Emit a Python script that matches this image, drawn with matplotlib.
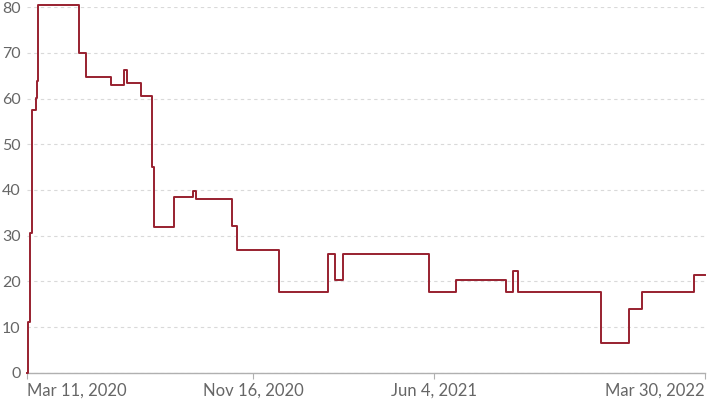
import pandas as pd
import matplotlib.pyplot as plt

# index value from each change date on (step chart)
change_dates = [
    "2020-03-11", "2020-03-12", "2020-03-14", "2020-03-17", "2020-03-21",
    "2020-03-22", "2020-03-23", "2020-05-07", "2020-05-15", "2020-06-12",
    "2020-06-26", "2020-06-29", "2020-07-15", "2020-07-27", "2020-07-29",
    "2020-08-20", "2020-09-10", "2020-09-14", "2020-10-23", "2020-10-29",
    "2020-12-14", "2021-02-07", "2021-02-14", "2021-02-23", "2021-05-29",
    "2021-06-28", "2021-08-22", "2021-08-30", "2021-09-05", "2021-12-05",
    "2022-01-05", "2022-01-20", "2022-03-18", "2022-03-30",
]
values = [
    0, 11.11, 30.56, 57.41, 60.19,
    63.89, 80.56, 69.91, 64.81, 62.96,
    66.2, 63.43, 60.65, 44.91, 31.94,
    38.43, 39.81, 37.96, 32.22, 26.85,
    17.59, 25.93, 20.37, 25.93, 17.59,
    20.37, 17.59, 22.22, 17.59, 6.48,
    13.89, 17.59, 21.3, 21.3,
]

tick_dates = ["2020-03-11", "2020-11-16", "2021-06-04", "2022-03-30"]
tick_labels = ["Mar 11, 2020", "Nov 16, 2020", "Jun 4, 2021", "Mar 30, 2022"]
y_ticks = [0, 10, 20, 30, 40, 50, 60, 70, 80]

plt.rcParams['font.family'] = ['Lato', 'DejaVu Sans']

fig = plt.figure(figsize=(7.08, 4.0), dpi=100)
ax = fig.add_axes([0.0381, 0.068, 0.9576, 0.9143])

x = pd.to_datetime(change_dates)
ax.step(x, values, where='post', color='#98202f', lw=1.4, clip_on=False, zorder=3)

ax.set_xlim(pd.Timestamp(tick_dates[0]), pd.Timestamp(tick_dates[-1]))
ax.set_ylim(0, 80)
ax.set_yticks(y_ticks)
ax.grid(axis='y', color='#d9d9d9', linestyle=(0, (3, 3)), lw=0.8)
ax.grid(axis='x', visible=False)
ax.set_axisbelow(True)

for s in ['top', 'right', 'left']:
    ax.spines[s].set_visible(False)
ax.spines['bottom'].set_color('#b0b0b0')
ax.spines['bottom'].set_linewidth(1.0)

ax.tick_params(axis='y', length=0, pad=4.5, labelsize=11.5, labelcolor='#666666')
ax.tick_params(axis='x', length=4, width=0.8, color='#b0b0b0', pad=3,
               labelsize=12, labelcolor='#666666')
ax.set_xticks(pd.to_datetime(tick_dates))
ax.set_xticklabels(tick_labels)
labels = ax.get_xticklabels()
labels[0].set_horizontalalignment('left')
labels[-1].set_horizontalalignment('right')

fig.savefig('out.png', dpi=100)
